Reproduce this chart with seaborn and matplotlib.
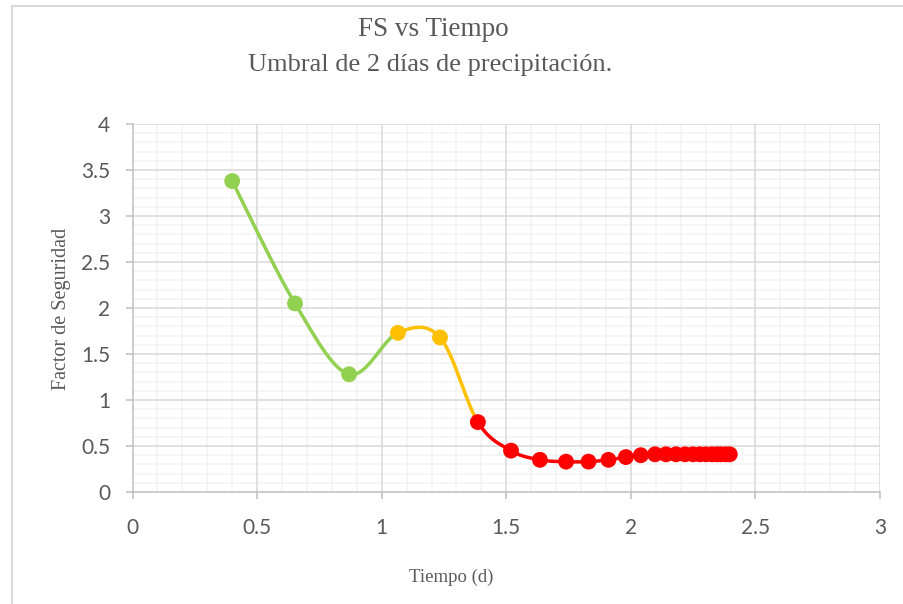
import numpy as np
import pandas as pd
import matplotlib
matplotlib.use("Agg")
import matplotlib.pyplot as plt
from matplotlib.patches import Rectangle
import seaborn as sns

# Safety factor over time, grouped by state
tiempo_verde = [0.40, 0.652, 0.869]
fs_verde = [3.38, 2.05, 1.28]
tiempo_amarillo = [1.065, 1.234]
fs_amarillo = [1.73, 1.68]
tiempo_rojo = [1.386, 1.519, 1.635, 1.74, 1.83, 1.91, 1.98, 2.04, 2.097, 2.141,
               2.181, 2.217, 2.249, 2.277, 2.301, 2.325, 2.345, 2.361, 2.381, 2.397]
fs_rojo = [0.76, 0.45, 0.35, 0.33, 0.33, 0.35, 0.38, 0.40, 0.41, 0.41,
           0.41, 0.41, 0.41, 0.41, 0.41, 0.41, 0.41, 0.41, 0.41, 0.41]

x_ticks = [0, 0.5, 1, 1.5, 2, 2.5, 3]
y_ticks = [0, 0.5, 1, 1.5, 2, 2.5, 3, 3.5, 4]

C_VERDE = "#92D050"
C_AMARILLO = "#FFC000"
C_ROJO = "#FF0000"

sns.set_theme(style="white")
plt.rcParams["font.family"] = ["Lato", "DejaVu Sans"]

df = pd.DataFrame({
    "t": tiempo_verde + tiempo_amarillo + tiempo_rojo,
    "fs": fs_verde + fs_amarillo + fs_rojo,
    "estado": (["verde"] * len(tiempo_verde) + ["amarillo"] * len(tiempo_amarillo)
               + ["rojo"] * len(tiempo_rojo)),
})
colores = {"verde": C_VERDE, "amarillo": C_AMARILLO, "rojo": C_ROJO}


def bezier_segment(P, i, n=30):
    """Smoothed segment between points i and i+1 (Catmull-Rom style Bezier)."""
    m = len(P)
    p0 = P[max(i - 1, 0)]
    p1 = P[i]
    p2 = P[i + 1]
    p3 = P[min(i + 2, m - 1)]
    c1 = p1 + (p2 - p0) / 6.0
    c2 = p2 - (p3 - p1) / 6.0
    t = np.linspace(0, 1, n)[:, None]
    return ((1 - t) ** 3 * p1 + 3 * (1 - t) ** 2 * t * c1
            + 3 * (1 - t) * t ** 2 * c2 + t ** 3 * p2)


fig = plt.figure(figsize=(9.04, 6.04), dpi=100)
fig.patch.set_facecolor("white")
ax = fig.add_axes([0.1466, 0.1854, 0.8269, 0.6093])

# Chart frame
fig.patches.append(Rectangle((12 / 904, -0.05), 1.2, 1 - 6 / 604 + 0.05,
                             transform=fig.transFigure, fill=False,
                             edgecolor="#D9D9D9", linewidth=1.5, zorder=0))

ax.set_xlim(0, 3)
ax.set_ylim(0, 4)
ax.set_xticks(x_ticks)
ax.set_xticklabels([f"{v:g}" for v in x_ticks])
ax.set_yticks(y_ticks)
ax.set_yticklabels([f"{v:g}" for v in y_ticks])
ax.set_xticks(np.arange(0, 3.0001, 0.1), minor=True)
ax.set_yticks(np.arange(0, 4.0001, 0.1), minor=True)

# Minor grid from the axis, major grid drawn on top of it
ax.grid(which="minor", color="#F2F2F2", linewidth=1.1)
ax.grid(which="major", visible=False)
ax.set_axisbelow(True)
for v in x_ticks[1:]:
    ax.axvline(v, color="#D9D9D9", linewidth=1.1, zorder=1)
for v in y_ticks[1:]:
    ax.axhline(v, color="#D9D9D9", linewidth=1.1, zorder=1)

P = df[["t", "fs"]].to_numpy(dtype=float)
for i in range(len(P) - 1):
    seg = bezier_segment(P, i)
    estado = df["estado"].iloc[i]
    sns.lineplot(x=seg[:, 0], y=seg[:, 1], sort=False, color=colores[estado],
                 linewidth=2.5, ax=ax, zorder=3, legend=False)

sns.scatterplot(data=df, x="t", y="fs", hue="estado", palette=colores,
                s=130, edgecolor="none", linewidth=0, ax=ax, zorder=4, legend=False)

for side in ["top", "right"]:
    ax.spines[side].set_visible(False)
for side in ["left", "bottom"]:
    ax.spines[side].set_color("#BFBFBF")
    ax.spines[side].set_linewidth(1.1)
    ax.spines[side].set_zorder(2)

ax.tick_params(which="major", direction="out", length=5, width=1.1, color="#BFBFBF",
               labelsize=15, labelcolor="#595959", left=True, bottom=True)
ax.tick_params(axis="x", which="major", pad=14)
ax.tick_params(axis="y", which="major", pad=11)
ax.tick_params(which="minor", length=0)

ax.set_xlabel("Tiempo (d)", family=["Liberation Serif"], fontsize=13.5,
              color="#595959", labelpad=0)
ax.set_ylabel("Factor de Seguridad", family=["Liberation Serif"], fontsize=14.5,
              color="#595959", labelpad=0)
ax.xaxis.set_label_coords(451 / 904, 1 - 577 / 604, transform=fig.transFigure)
ax.yaxis.set_label_coords(62 / 904, 1 - 309 / 604, transform=fig.transFigure)
ax.xaxis.label.set_va("center")
ax.yaxis.label.set_va("center")

fig.text(433 / 904, 1 - 30 / 604, "FS vs Tiempo", family=["Liberation Serif"],
         fontsize=19.5, color="#595959", ha="center", va="center")
fig.text(430 / 904, 1 - 65 / 604, "Umbral de 2 días de precipitación.",
         family=["Liberation Serif"], fontsize=19, color="#595959",
         ha="center", va="center")

fig.savefig("out.png", dpi=100, facecolor="white")
